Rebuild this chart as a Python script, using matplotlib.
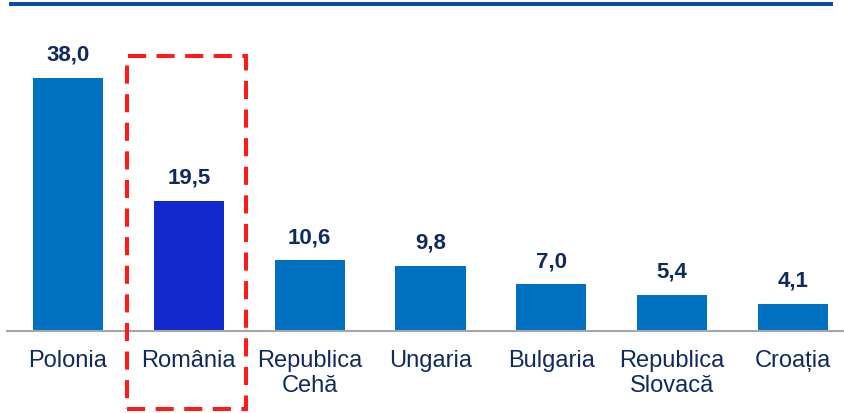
import matplotlib
matplotlib.use("Agg")
import matplotlib.pyplot as plt
from matplotlib.lines import Line2D
from matplotlib.patches import Rectangle

plt.rcParams['font.family'] = ['Liberation Sans', 'DejaVu Sans']

# data
countries = ['Polonia', 'România', 'Republica\nCehă', 'Ungaria', 'Bulgaria',
             'Republica\nSlovacă', 'Croația']
values = [38.0, 19.5, 10.6, 9.8, 7.0, 5.4, 4.1]
highlight = 'România'

bar_blue = '#0070C0'
hl_blue = '#1228CC'
text_navy = '#102A5E'

W, H = 845, 414
fig = plt.figure(figsize=(W / 100, H / 100), dpi=100)
ax = fig.add_axes([7 / W, 82 / H, 838 / W, (332 - 10) / H])

x = range(len(countries))
colors = [hl_blue if c == highlight else bar_blue for c in countries]
bars = ax.bar(x, values, width=0.58, color=colors, zorder=2)

for b, v in zip(bars, values):
    ax.annotate(f'{v:.1f}'.replace('.', ','),
                (b.get_x() + b.get_width() / 2, b.get_height()),
                xytext=(0, 9.5), textcoords='offset points',
                ha='center', va='bottom', fontsize=16, fontweight='bold',
                color=text_navy)

ax.set_xlim(-0.505, 6.43)
ax.set_ylim(0, 48.3)
ax.set_xticks(list(x))
ax.set_xticklabels(countries, fontsize=17, color=text_navy, linespacing=1.2)
ax.tick_params(axis='x', length=0, pad=13)
ax.set_yticks([])
for s in ['top', 'left', 'right']:
    ax.spines[s].set_visible(False)
ax.spines['bottom'].set_color('#A6A6A6')
ax.spines['bottom'].set_linewidth(1.5)

# dark blue rule on top
fig.add_artist(Line2D([11 / W, 831 / W], [(H - 5) / H, (H - 5) / H],
                      color='#0B4EA0', linewidth=2.9, transform=fig.transFigure))

# red dashed frame around Romania
fig.add_artist(Rectangle((127 / W, 4 / H), (246 - 127) / W, (410 - 57) / H,
                         fill=False, edgecolor='#FF1A1A', linewidth=2.9,
                         linestyle=(0, (4.5, 2.6)), transform=fig.transFigure,
                         clip_on=False))

fig.savefig('out.png', dpi=100)
